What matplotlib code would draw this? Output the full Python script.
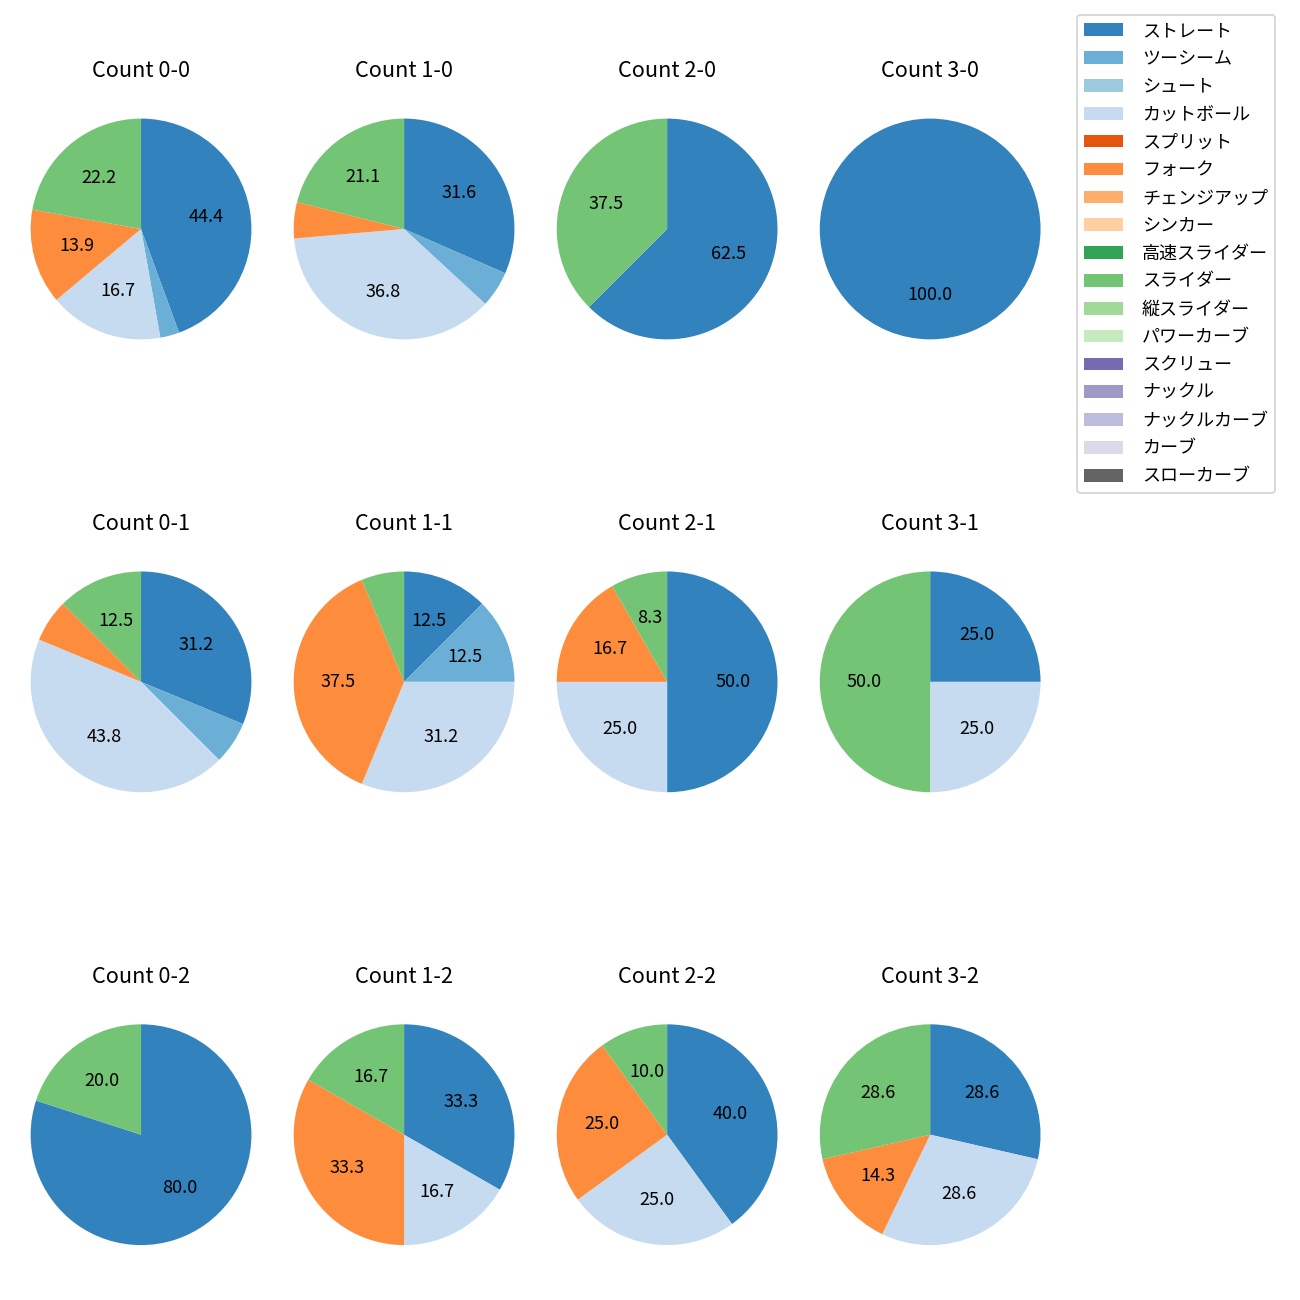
import matplotlib
matplotlib.use("Agg")
import matplotlib.pyplot as plt
from matplotlib.patches import Patch

plt.rcParams['font.family'] = ['Noto Sans CJK JP', 'DejaVu Sans']

pitch_types = ['ストレート', 'ツーシーム', 'シュート', 'カットボール', 'スプリット', 'フォーク',
               'チェンジアップ', 'シンカー', '高速スライダー', 'スライダー', '縦スライダー',
               'パワーカーブ', 'スクリュー', 'ナックル', 'ナックルカーブ', 'カーブ', 'スローカーブ']

# percentages per count (only the pitch types that were thrown)
count_0_0 = {'ストレート': 44.4, 'ツーシーム': 2.8, 'カットボール': 16.7, 'フォーク': 13.9, 'スライダー': 22.2}
count_1_0 = {'ストレート': 31.6, 'ツーシーム': 5.3, 'カットボール': 36.8, 'フォーク': 5.3, 'スライダー': 21.1}
count_2_0 = {'ストレート': 62.5, 'スライダー': 37.5}
count_3_0 = {'ストレート': 100.0}
count_0_1 = {'ストレート': 31.25, 'ツーシーム': 6.25, 'カットボール': 43.75, 'フォーク': 6.25, 'スライダー': 12.5}
count_1_1 = {'ストレート': 12.5, 'ツーシーム': 12.5, 'カットボール': 31.25, 'フォーク': 37.5, 'スライダー': 6.25}
count_2_1 = {'ストレート': 50.0, 'カットボール': 25.0, 'フォーク': 16.7, 'スライダー': 8.3}
count_3_1 = {'ストレート': 25.0, 'カットボール': 25.0, 'スライダー': 50.0}
count_0_2 = {'ストレート': 80.0, 'スライダー': 20.0}
count_1_2 = {'ストレート': 33.3, 'カットボール': 16.7, 'フォーク': 33.3, 'スライダー': 16.7}
count_2_2 = {'ストレート': 40.0, 'カットボール': 25.0, 'フォーク': 25.0, 'スライダー': 10.0}
count_3_2 = {'ストレート': 28.6, 'カットボール': 28.6, 'フォーク': 14.3, 'スライダー': 28.6}

counts = {
    (0, 0): count_0_0, (1, 0): count_1_0, (2, 0): count_2_0, (3, 0): count_3_0,
    (0, 1): count_0_1, (1, 1): count_1_1, (2, 1): count_2_1, (3, 1): count_3_1,
    (0, 2): count_0_2, (1, 2): count_1_2, (2, 2): count_2_2, (3, 2): count_3_2,
}

cmap = plt.get_cmap('tab20c')
colors = [cmap(i) for i in range(len(pitch_types))]

fig, axes = plt.subplots(3, 4, figsize=(10, 10), dpi=130)
fig.subplots_adjust(left=0.002, right=0.822, top=0.93, bottom=0.021,
                    wspace=-0.05, hspace=0.641)

for (balls, strikes), d in counts.items():
    ax = axes[strikes][balls]
    vals = [d.get(p, 0) for p in pitch_types]
    ax.pie(vals, colors=colors, startangle=90, counterclock=False,
           autopct=lambda p: f'{p:.1f}' if p >= 7 else '')
    ax.set_title(f'Count {balls}-{strikes}', fontsize=12, pad=7.8)

handles = [Patch(facecolor=c, label=p) for c, p in zip(colors, pitch_types)]
fig.legend(handles=handles, loc='upper left', bbox_to_anchor=(0.8215, 0.9955),
           labelspacing=0.545, handlelength=2.15, handletextpad=1.05)

plt.savefig('out.png', dpi=130)
